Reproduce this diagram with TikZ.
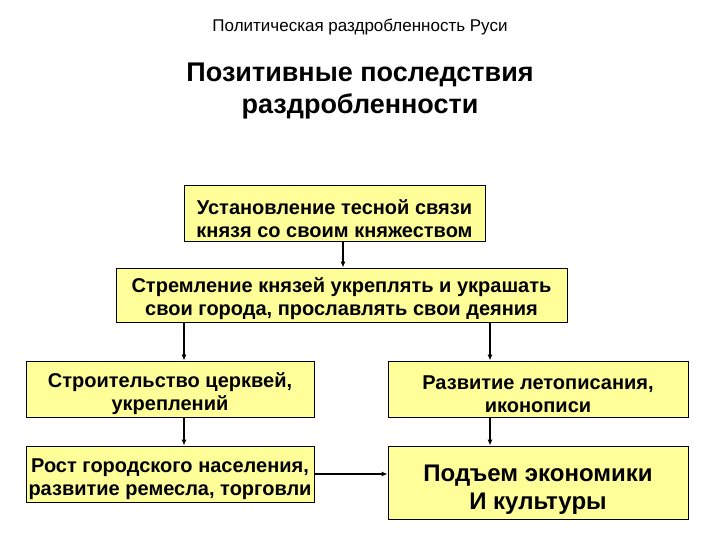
\documentclass[tikz,border=0pt]{standalone}
\usepackage{fontspec}
\setmainfont{Liberation Sans}
\usetikzlibrary{arrows.meta}
\definecolor{boxfill}{HTML}{FFFF99}
\newcommand{\dn}[1]{\rule{0pt}{#1}}
\begin{document}
\begin{tikzpicture}[x=1pt,y=-1pt,
  box/.style={draw=black,line width=0.9pt,fill=boxfill,align=center,inner sep=0pt,
    font=\bfseries\fontsize{20}{23}\selectfont},
  arr/.style={draw=black,line width=1.1pt,-{Latex[length=6pt,width=5pt]}}]
\useasboundingbox (0,0) rectangle (720,540);
\fill[white] (0,0) rectangle (720,540);
\node (sub) at (360,27) {\fontsize{17}{19}\selectfont Политическая раздробленность Руси};
\node[align=center,font=\bfseries\fontsize{27}{32}\selectfont] (title) at (360,91) {Позитивные последствия\\раздробленности};
\node[box,minimum width=301,minimum height=56] (b1) at (334.5,213) {\dn{27pt}Установление тесной связи\\князя со своим княжеством};
\node[box,minimum width=451,minimum height=54] (b2) at (341.5,295) {\dn{22pt}Стремление князей укреплять и украшать\\свои города, прославлять свои деяния};
\node[box,minimum width=288,minimum height=56] (b3) at (170,389) {\dn{25pt}Строительство церквей,\\укреплений};
\node[box,minimum width=300,minimum height=56] (b4) at (538,389) {\dn{25pt}Развитие летописания,\\иконописи};
\node[box,minimum width=288,minimum height=56] (b5) at (170,474) {\dn{25pt}Рост городского населения,\\развитие ремесла, торговли};
\node[box,minimum width=300,minimum height=73,font=\bfseries\fontsize{24}{28}\selectfont] (b6) at (538,482.5) {\dn{30pt}Подъем экономики\\И культуры};
\coordinate (cx1) at (343,0);
\coordinate (cxl) at (184,0);
\coordinate (cxr) at (490,0);
\draw[arr] (b1.south -| cx1) -- (b2.north -| cx1);
\draw[arr] (b2.south -| cxl) -- (b3.north -| cxl);
\draw[arr] (b2.south -| cxr) -- (b4.north -| cxr);
\draw[arr] (b3.south -| cxl) -- (b5.north -| cxl);
\draw[arr] (b4.south -| cxr) -- (b6.north -| cxr);
\draw[arr] (b5.east) -- (b6.west |- b5.east);
\end{tikzpicture}
\end{document}
